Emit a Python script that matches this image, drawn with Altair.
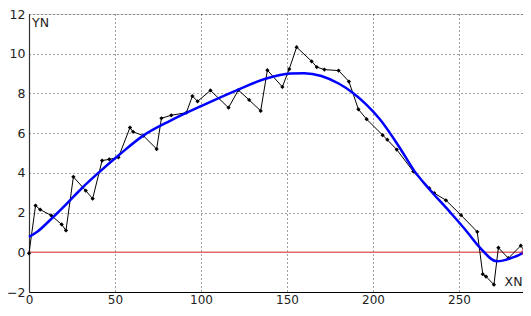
import altair as alt
import pandas as pd

# measured data (black line with markers)
x_data = [0, 3.8, 6.5, 13, 19, 21.5, 25.8, 33, 37, 42.5, 46.7, 52, 58.7, 60.5, 66.5,
          74.2, 77, 82.7, 91.5, 95, 98, 105.5, 116, 121.7, 128, 134.7, 138.6, 147.3,
          151.3, 155.6, 164.3, 167.3, 171.7, 180, 186, 191.5, 196.3, 205.6, 208.3,
          213.8, 223.4, 232.7, 235.6, 242.4, 251.2, 260.6, 263.8, 265.7, 270.3,
          272.9, 278.7, 285.9, 288.4]
y_data = [-0.05, 2.35, 2.15, 1.85, 1.4, 1.1, 3.8, 3.1, 2.7, 4.62, 4.68, 4.78, 6.28,
          6.07, 5.87, 5.2, 6.75, 6.9, 7.03, 7.87, 7.6, 8.15, 7.28, 8.17, 7.67, 7.12,
          9.17, 8.33, 9.23, 10.33, 9.62, 9.33, 9.2, 9.15, 8.6, 7.2, 6.7, 5.9, 5.67,
          5.17, 4.07, 3.23, 2.98, 2.62, 1.87, 1.03, -1.1, -1.22, -1.63, 0.23, -0.3,
          0.33, 0.03]

# fitted curve (blue)
fit_x = [0, 5, 12, 22, 31, 41, 53, 66, 82, 101, 121, 138, 152, 160, 170, 180, 188,
         196, 204, 216, 224, 232, 245, 254.5, 262, 272, 280, 288, 292]
fit_y = [0.78, 1.05, 1.6, 2.45, 3.25, 4.05, 4.95, 5.85, 6.62, 7.4, 8.17, 8.75, 9.0,
         9.02, 8.88, 8.5, 8.05, 7.45, 6.7, 5.2, 4.1, 3.25, 2.0, 1.05, 0.25, -0.45,
         -0.3, 0.03, 0.37]

x_ticks = [0, 50, 100, 150, 200, 250]
y_ticks = [-2, 0, 2, 4, 6, 8, 10, 12]

labels = ["YN", "XN"]
label_x = [1.8, 276.5]
label_y = [11.55, -1.5]

data_df = pd.DataFrame({"x": x_data, "y": y_data})
fit_df = pd.DataFrame({"x": fit_x, "y": fit_y})
zero_df = pd.DataFrame({"x": [0, 287.2], "y": [0, 0]})
end_df = pd.DataFrame({"x": [x_data[-1]], "y": [y_data[-1]]})
lab_df = pd.DataFrame({"t": labels, "x": label_x, "y": label_y})

xs = alt.Scale(domain=[0, 287.2], nice=False, zero=False)
ys = alt.Scale(domain=[-2, 12], nice=False, zero=False)

font = "DejaVu Sans"
x_axis = alt.Axis(values=x_ticks, grid=True, gridDash=[1, 3], gridColor="#000000",
                  gridOpacity=0.75, domainColor="#000000", domainWidth=1.2, ticks=False,
                  labelFont=font, labelFontSize=12, labelColor="#222222",
                  labelPadding=2, title=None, labelFlush=False, labelOverlap=False)
y_axis = alt.Axis(values=y_ticks, grid=True, gridDash=[1, 3], gridColor="#000000",
                  gridOpacity=0.75, domainColor="#333333", domainWidth=1.2, ticks=False,
                  labelFont=font, labelFontSize=12.5, labelColor="#222222",
                  labelPadding=4, title=None, labelFlush=False, labelOverlap=False)

X = alt.X("x:Q", scale=xs, axis=x_axis)
Y = alt.Y("y:Q", scale=ys, axis=y_axis)

zero_line = alt.Chart(zero_df).mark_line(color="#e06868", strokeWidth=1.5).encode(x=X, y=Y)

data_line = alt.Chart(data_df).mark_line(color="#000000", strokeWidth=1).encode(x=X, y=Y)
data_pts = alt.Chart(data_df).mark_point(
    shape="diamond", filled=True, color="#000000", size=18, opacity=1
).encode(x=X, y=Y)

fit_line = alt.Chart(fit_df).mark_line(
    color="#0000ff", strokeWidth=2.5, interpolate="monotone"
).encode(x=X, y=Y)

end_pt = alt.Chart(end_df).mark_point(
    shape="circle", filled=False, color="#e03030", size=40, strokeWidth=1.2
).encode(x=X, y=Y)

texts = alt.Chart(lab_df).mark_text(
    align="left", baseline="middle", font=font, fontSize=12.5, color="#222222"
).encode(x=X, y=Y, text="t:N")

chart = alt.layer(zero_line, data_line, data_pts, fit_line, end_pt, texts).properties(
    width=494, height=278,
    autosize=alt.AutoSizeParams(type="none"),
    padding={"left": 21, "top": 6, "right": 0, "bottom": 16},
).configure_view(stroke=None).configure(background="#ffffff")

chart.save("out.html", embed_options={"renderer": "svg", "actions": False})
